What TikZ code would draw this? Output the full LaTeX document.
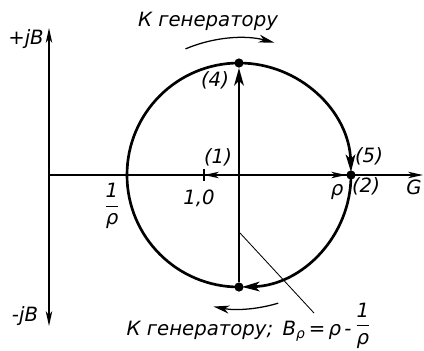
\documentclass[tikz,border=0pt]{standalone}
\usepackage{amsmath}
\usepackage{fontspec}
\setmainfont{DejaVu Sans}
\usetikzlibrary{arrows.meta}
\tikzset{
  axis/.style={line width=1.1pt},
  axarrow/.style={axis,-{Stealth[length=3.7mm,width=1.6mm,inset=1mm]}},
  chart/.style={line width=1.9pt},
  vec/.style={chart,-{Stealth[length=4.4mm,width=2.4mm,inset=1.2mm]}},
  dot/.style={circle,fill,inner sep=0,minimum size=2.3mm},
  lab/.style={font=\fontsize{14}{16}\selectfont\itshape,inner sep=1pt},
  % curved arrows telling the way to the generator
  turn/.style={line width=0.9pt,-{Stealth[length=4mm,width=2mm,inset=1.2mm]}},
  leader/.style={line width=0.6pt},
}
\newcommand{\rfrac}{\raisebox{3pt}{$\dfrac{\text{1}}{\text{ρ}}$}}

\begin{document}
\begin{tikzpicture}[x=0.25mm,y=-0.25mm]
  \useasboundingbox (0,0) rectangle (424,350);
  % axes
  \coordinate (O) at (49,175);
  \coordinate (ytop) at (49,28);
  \coordinate (ybot) at (49,326);
  \coordinate (xend) at (423,175);
  \draw[axis,{Stealth[length=3.7mm,width=1.6mm,inset=1mm]}-{Stealth[length=3.7mm,width=1.6mm,inset=1mm]}] (ybot) -- (ytop);
  \draw[axarrow] (O) -- (xend);
  % the circle of constant standing wave ratio
  \coordinate (C) at (239,175);
  \coordinate (one) at (204,175);
  \node[dot] (T) at (239,63) {};
  \node[dot] (R) at (351,175) {};
  \node[dot] (B) at (239,287) {};
  \draw[chart] (B.center) arc[start angle=90,end angle=270,radius=112];
  \draw[vec] (B) -- (T);
  \draw[vec] (T.center) arc[start angle=-90,end angle=-1.5,radius=112];
  \draw[vec] (R.center) arc[start angle=0,end angle=88.5,radius=112];
  \draw[axarrow] (C) -- (R);
  \draw[axarrow] (C) -- (one);
  \draw[axis] ([yshift=-4]one) -- ([yshift=4]one);
  % directions to the generator
  \draw[turn] ([shift={(-113:137)}]C) arc[start angle=-113,end angle=-75,radius=137];
  \draw[turn] ([shift={(73:134)}]C) arc[start angle=73,end angle=101,radius=134];
  % labels
  \node[lab] (lplus) at (26,39) {+jB};
  \node[lab] (lminus) at (25,316) {-jB};
  \node[lab] (linv) at (112,206) {$\dfrac{\text{1}}{\text{ρ}}$};
  \node[lab] (lone) at (199,198) {1,0};
  \node[lab] (n1) at (218,157) {(1)};
  \node[lab] (n4) at (215,80) {(4)};
  \node[lab] (n5) at (369,156) {(5)};
  \node[lab] (n2) at (366,186) {(2)};
  \node[lab] (lrho) at (337,192) {ρ};
  \node[lab] (lG) at (414,187) {G};
  \node[lab,anchor=base] (ttop) at (208,26) {К генератору};
  \node[lab,anchor=base west] (tbot) at (125,335) {К генератору;\, B$_{\text{ρ}}$\,=\,ρ\,-\,\rfrac};
  \coordinate (lead) at (240,233);
  \draw[leader] (lead) -- (314,313);
\end{tikzpicture}
\end{document}
